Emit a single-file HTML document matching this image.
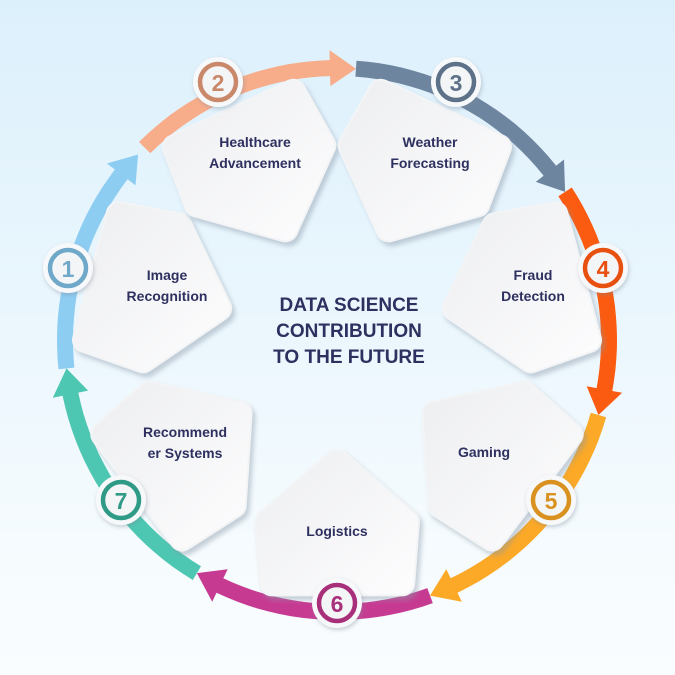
<!DOCTYPE html>
<html><head><meta charset="utf-8"><style>
html,body{margin:0;padding:0}
body{width:675px;height:675px;overflow:hidden;background:linear-gradient(#dcf0fc,#f5fbfe 80%,#fafdff);font-family:"Liberation Sans",sans-serif}
svg{display:block}
svg text{font-family:"Liberation Sans",sans-serif;font-weight:bold}
</style></head><body>
<svg id="s" width="675" height="675" viewBox="0 0 675 675" xmlns="http://www.w3.org/2000/svg">
<defs>
<filter id="sh" x="-20%" y="-20%" width="140%" height="140%"><feDropShadow dx="3" dy="4" stdDeviation="2.5" flood-color="#8a98a8" flood-opacity="0.45"/></filter>
<filter id="sh2" x="-30%" y="-30%" width="160%" height="160%"><feDropShadow dx="1" dy="2" stdDeviation="2" flood-color="#7a8898" flood-opacity="0.4"/></filter>
<linearGradient id="pg" x1="0" y1="0" x2="1" y2="1"><stop offset="0" stop-color="#eeeff1"/><stop offset="1" stop-color="#fcfcfd"/></linearGradient>
</defs>
<g id="arrows"></g>
<g id="petals"></g>
<g id="nodes"></g>
<g fill="#2e3060" font-size="14" text-anchor="middle">
<text x="167" y="280">Image</text><text x="167" y="301">Recognition</text>
<text x="255" y="147">Healthcare</text><text x="255" y="168">Advancement</text>
<text x="430" y="147">Weather</text><text x="430" y="168">Forecasting</text>
<text x="533" y="280">Fraud</text><text x="533" y="301">Detection</text>
<text x="484" y="457">Gaming</text>
<text x="337" y="536">Logistics</text>
<text x="185" y="437">Recommend</text><text x="185" y="458">er Systems</text>
</g>
<g fill="#2e3060" font-size="19" text-anchor="middle">
<text x="349" y="311">DATA SCIENCE</text>
<text x="349" y="337">CONTRIBUTION</text>
<text x="349" y="363">TO THE FUTURE</text>
</g>
<g font-size="23" text-anchor="middle">
<text x="68" y="277" fill="#6fa8c8">1</text>
<text x="218" y="91" fill="#c9886a">2</text>
<text x="456" y="91" fill="#5d7189">3</text>
<text x="603" y="277" fill="#e8500f">4</text>
<text x="551" y="509" fill="#d9911f">5</text>
<text x="337" y="612" fill="#a8307a">6</text>
<text x="121" y="509" fill="#2f9a86">7</text>
</g>
</svg>
<script>
var cx=337,cy=340,R=272,NS="http://www.w3.org/2000/svg";
function P(r,a){a=a*Math.PI/180;return (cx+r*Math.cos(a)).toFixed(1)+","+(cy+r*Math.sin(a)).toFixed(1);}
function el(t,at,par){var e=document.createElementNS(NS,t);for(var k in at)e.setAttribute(k,at[k]);document.getElementById(par).appendChild(e);}
var arr=[[174,223,"#8ecdf2"],[225,274,"#f7ac8a"],[274,327,"#6e85a0"],[327,376,"#fb5b10"],[376,430,"#fba926"],[430,481,"#c73a92"],[481,534,"#4dc7b2"]];
arr.forEach(function(a){var a0=a[0],a1=a[1],ah=a1-5.5,pts=[],i,n=20;
for(i=0;i<=n;i++)pts.push(P(R+8,a0+(ah-a0)*i/n));
pts.push(P(R+18,ah));pts.push(P(R,a1));pts.push(P(R-18,ah));
for(i=n;i>=0;i--)pts.push(P(R-8,a0+(ah-a0)*i/n));
el("polygon",{points:pts.join(" "),fill:a[2]},"arrows");});
var ang=[195,245,295,345,397,450,503];
ang.forEach(function(t){var pts=[P(122,t),P(195,t-21),P(252,t-15),P(252,t+15),P(195,t+21)].join(" ");
el("polygon",{points:pts,fill:"#f3f4f6",stroke:"#f3f4f6","stroke-width":"26","stroke-linejoin":"round",filter:"url(#sh)"},"petals");
el("polygon",{points:pts,fill:"url(#pg)",stroke:"url(#pg)","stroke-width":"22","stroke-linejoin":"round"},"petals");});
var nd=[[68,268,"#6fa8c8"],[218,82,"#c9886a"],[456,82,"#5d7189"],[603,268,"#e8500f"],[551,500,"#d9911f"],[337,603,"#a8307a"],[121,500,"#2f9a86"]];
nd.forEach(function(n){el("circle",{cx:n[0],cy:n[1],r:25,fill:"#f7f8fa",filter:"url(#sh2)"},"nodes");
el("circle",{cx:n[0],cy:n[1],r:18,fill:"#f4f5f7",stroke:n[2],"stroke-width":"4.5"},"nodes");});
</script>
</body></html>
